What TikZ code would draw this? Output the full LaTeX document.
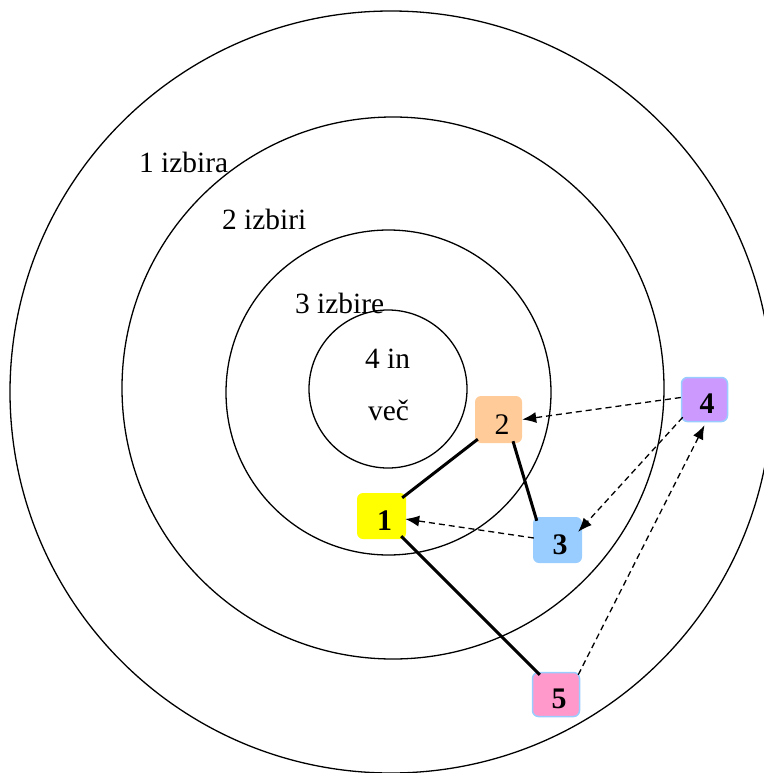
\documentclass[tikz,border=0pt]{standalone}
\usepackage{fontspec}
\setmainfont{Liberation Serif}
\usetikzlibrary{arrows.meta,calc}
\definecolor{cyel}{HTML}{FFFF00}
\definecolor{corange}{HTML}{FFCC99}
\definecolor{cblue}{HTML}{99CCFF}
\definecolor{cpurple}{HTML}{CC99FF}
\definecolor{cpink}{HTML}{FF99CC}
\begin{document}
\begin{tikzpicture}[x=1bp,y=-1bp,
  ring/.style={draw=black,line width=1.3bp},
  ringlbl/.style={anchor=base west,inner sep=0pt,font=\fontsize{29.5}{29.5}\selectfont},
  box/.style={rounded corners=6bp,inner sep=0pt,draw=none},
  numlbl/.style={inner sep=0pt,font=\fontsize{30}{30}\selectfont},
  solidlink/.style={draw=black,line width=3bp},
  dashlink/.style={draw=black,line width=1.3bp,dash pattern=on 6bp off 4bp,-{Latex[length=14bp,width=11bp]}}
]
\useasboundingbox (0,0) rectangle (764,773);
\clip (0,0) rectangle (764,773);
% rings
\draw[ring] (391,392) circle[radius=381];
\draw[ring] (393,388) circle[radius=271];
\draw[ring] (388.5,392.5) circle[radius=162.5];
\draw[ring] (388,389) circle[radius=79];
% ring labels
\node[ringlbl] (r1) at (139,172) {1 izbira};
\node[ringlbl] (r2) at (222,229) {2 izbiri};
\node[ringlbl] (r3) at (295,313) {3 izbire};
\node[ringlbl] (r4a) at (365,368) {4 in};
\node[ringlbl] (r4b) at (368,420) {več};
% boxes
\node[box,fill=cyel,minimum width=49bp,minimum height=46bp] (n1) at (381.5,516) {};
\node[box,fill=corange,minimum width=47bp,minimum height=47bp] (n2) at (498.5,419.5) {};
\node[box,fill=cblue,minimum width=49bp,minimum height=46bp] (n3) at (557.5,540) {};
\node[box,fill=cpurple,draw=cblue,line width=1.5bp,minimum width=46bp,minimum height=44bp] (n4) at (704.5,399.5) {};
\node[box,fill=cpink,draw=cblue,line width=1.5bp,minimum width=47bp,minimum height=44bp] (n5) at (556,694.5) {};
% labels
\node[numlbl] (l1) at ($(n1.center)+(3,5)$) {\textbf{1}};
\node[numlbl] (l2) at ($(n2.center)+(3.5,5)$) {2};
\node[numlbl] (l3) at ($(n3.center)+(2.5,5)$) {\textbf{3}};
\node[numlbl] (l4) at ($(n4.center)+(2.5,4)$) {\textbf{4}};
\node[numlbl] (l5) at ($(n5.center)+(3,4.5)$) {\textbf{5}};
% solid links
\draw[solidlink] ($(n2.south west)+(3,-4)$) -- ($(n1.north east)+(-4,5)$);
\draw[solidlink] ($(n2.south)+(14.5,-2)$) -- ($(n3.north west)+(4,4)$);
\draw[solidlink] ($(n1.south east)+(-5,-3)$) -- ($(n5.north west)+(8,3)$);
% dashed arrows
\draw[dashlink] ($(n4.west)+(0,-2)$) -- (n2.east);
\draw[dashlink] ($(n4.south west)+(2,-5)$) -- ($(n3.north east)+(-4,15)$);
\draw[dashlink] ($(n3.west)+(1,-2)$) -- ($(n1.east)+(-1,3)$);
\draw[dashlink] ($(n5.north east)+(-2,3)$) -- ($(n4.south)+(0,3)$);
\end{tikzpicture}
\end{document}
